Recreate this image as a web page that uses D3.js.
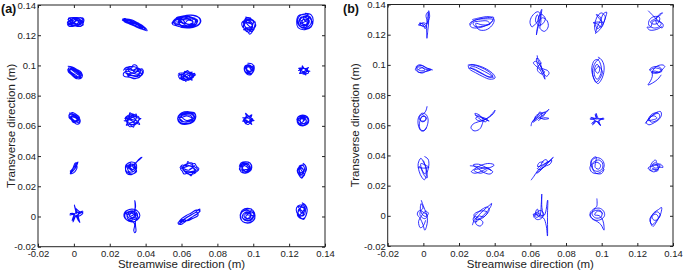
<!DOCTYPE html>
<html>
<head>
<meta charset="utf-8">
<script src="https://cdn.jsdelivr.net/npm/d3@7"></script>
<style>
  body { margin: 0; background: #fff; }
  svg { display: block; }
  text { font-family: "Liberation Sans", Arial, sans-serif; }
</style>
</head>
<body>
<script>
const width = 685, height = 272;

// axis ticks (metres)
const xTicks = [-0.02, 0, 0.02, 0.04, 0.06, 0.08, 0.1, 0.12, 0.14];
const yTicks = [-0.02, 0, 0.02, 0.04, 0.06, 0.08, 0.1, 0.12, 0.14];

// mean position of each tracked point, in mm (row by row, top row first)
const centersA = [
  [1.0, 128.7], [33.5, 127.2], [62.5, 128.8], [97.6, 126.5], [128.8, 129],
  [0.6, 95.4], [33.1, 95.7], [62.9, 93.2], [97.8, 97.5], [128.3, 96.7],
  [0.3, 65], [32.7, 63.9], [62.9, 65], [97.2, 64.4], [127.6, 63.6],
  [0.3, 31.9], [32, 32.1], [64.4, 31.6], [95.7, 32.5], [127.1, 30.3],
  [1.5, 1.8], [32.4, 0.7], [64.2, -0.3], [96.8, 0.5], [127.1, 3.6]
];
const centersB = [
  [1, 126.9], [32.9, 127.5], [64.9, 128.2], [99, 127.9], [129.9, 129.5],
  [0.4, 97.1], [32.3, 95.8], [66, 98.4], [97.9, 96.4], [130.4, 96.4],
  [-0.2, 63.3], [32.9, 63.3], [65.4, 65], [97.4, 63.7], [129, 64.7],
  [0.1, 31.6], [32.9, 31.2], [66, 32.2], [97.4, 33], [130.2, 32.6],
  [-0.2, 1.1], [32.9, 0.8], [64.9, 0.5], [97.6, 1.1], [130.3, -0.9]
];

// traced excursions around each mean position, in mm
const pathsA = [
  [[-4.5,1.5],[-2,2.8],[1,2.5],[4,2.8],[4.5,1],[2,-1],[-1,-2.8],[-4,-2.5],[-4.5,0],[-1,1.5],[3,0.5],[4.2,-2],[1,-2.5],[-3,-1],[-2,2],[2,2],[3.5,-0.5],[0,-1.5],[-3.5,0.5],[-4,2.5],[0,3],[4.5,2],[3,-2.8],[-2,-2],[-4.3,-1.5],[-1,0],[2.5,1.5],[4,0],[1.5,-1.5],[-2.5,1],
   [-3,2.5],[-1,-0.5],[1.5,2.8],[3,-1],[0.5,-2],[-2.5,1.5],[-4,-1],[-1.5,-2.5],[2,0],[4,1.5],[2.5,2.8],[-0.5,0.5],[-3.5,-2],[0,2],[3.5,-2.5],[1,1]],
  [[-6.5,3.5],[-3,3],[0,1.5],[3,0],[6,-2],[7.3,-4.2],[5,-3.5],[2,-1.5],[-1,0],[-4,1.5],[-6,2.5],[-5,3.8],[-2,2],[1,0.5],[4,-1],[6.5,-2.8],[4,-3],[0,-1],[-3,0.5],[-5.5,2],[-4.5,3.5],[-1,2.8],[2,1],[5,-1],[6,-3.5],[3,-2.5],[-0.5,-0.5],[-3.5,1],[-6.5,2.8],
   [-5,3],[-2,1],[1,1.5],[3,-1.5],[5.5,-2],[3,-1],[0,0.5],[-3,2.5],[-6,3.5],[-4,2],[-1,1],[2,-0.5],[4.5,-2.5],[6.5,-3.8],[2,-2],[-2,1.5]],
  [[-8,-1],[-6,2],[-2,3.8],[3,4.5],[7,3],[8,0],[6,-2.5],[1,-3.5],[-4,-3],[-7.5,-1.5],[-6,1],[-2,2],[3,2.5],[6.5,1],[5,-2],[0,-2.5],[-5,-1.5],[-6.5,0.5],[-3,3],[1,3.5],[5,2],[6,-1],[2,-3],[-3,-2],[-4,1],[0,1.5],[4,0],[2,-1.5],[-2,-0.5],[-7,0],[-5,-2.5],[2,-4],[7.5,-1.5],[8,2],[4,4.2],[-1,4],[-5.5,2.5],
   [-4,2],[-1,-1],[2,2],[4,-1],[1,-2.5],[-3,0],[-5,2.5],[0,3],[3,1],[5,2.5],[4.5,-2],[0,-1],[-2,1.5],[-4.5,-1],[-1,-3],[3,-2.5],[5.5,0.5],[2,3.5],[-2,2.8],[-6,1]],
  [[-2,5.5],[1,4.5],[3.5,2],[3,-1],[2,-4],[0.5,-5.8],[-1,-3.5],[-3.5,-1],[-3.8,2],[-1,3.5],[2,1],[1,-2.5],[-2,-1],[-3,2.5],[-0.5,5],[2.5,3],[3.8,0],[1.5,-3],[-1.5,-2],[-2.5,1],[0,2],[2,-0.5],[0,-4.5],[-2.5,-2.5],[-3,0.5],[-1,4],[1.5,3.5],
   [-2,3],[1,-1],[2.5,2.5],[0,4],[-2.5,0],[1.5,-4],[3,-2],[-1,-1.5],[-3,-3],[0,-2.5],[2,0.5],[-1,2],[-2,4.5],[1,5]],
  [[0,5.5],[3.5,4.5],[4.6,1],[3.5,-3.5],[0,-5.3],[-3.8,-4],[-4.6,0],[-3.5,4],[0,4.5],[3,3],[3.5,-1],[1.5,-3.5],[-2,-3.5],[-3.5,-0.5],[-2,3],[1,2.5],[2,0],[0.5,-2],[-1.5,-1],[-1,1.5],[1.5,1],[1,-1.5],[-2,-2.5],[-2.5,1.5],[0,3.5],[3,2],[4,-2],[1,-4.5],[-3,-3],[-4,1.5],[-2,4.5],[2,5],
   [-1,2],[1.5,-1],[-0.5,-3],[-2.5,-1.5],[0,0],[2,2.5],[1,-2.5],[-3,0.5],[-1,3],[2.5,0.5],[0,-4],[-2,1]],
  [[-4,4],[-1.5,3.5],[1,2],[3.5,0],[4,-3],[2,-4.3],[-0.5,-2.5],[-3,-0.5],[-4,2],[-2,3],[1,1],[3,-1.5],[2.5,-3.5],[0,-1.5],[-2.5,0.5],[-3.5,3],[-1,2],[2,0.5],[3.8,-2],[1,-3],[-1.5,-1],[-3,1.5],[0,2.5],[2.5,-0.5],[3,-3.5],[0.5,-4],[-2,-1.5],[-3.8,0.5],
   [-2,2],[0.5,0.5],[2.5,-2],[1,-3.5],[-1,-2],[-3.5,1],[-1,3],[1.5,0],[3,-2.5],[0,0],[-2.5,2.5]],
  [[-5.5,1],[-4,3],[-1,2.5],[0,4.6],[2,4],[2.5,1.5],[5,2],[5.6,-0.5],[4,-3],[1,-4.5],[-2,-3.5],[-5,-3],[-5.5,-1],[-3,0.5],[0,-1],[3,0.5],[4.5,-2],[1.5,-2.5],[-1.5,-2],[-4,-1],[-3.5,2],[-0.5,1],[2.5,2.5],[4,0],[2,-1.5],[-1,-0.5],[-3,-2.5],[0,-4],[3.5,-3.5],[5,0.5],[2,3],[-2,3.5],[-5,2],
   [-3,1.5],[-1,-1],[1.5,1.5],[3.5,-1],[1,-3],[-2,-1.5],[-4.5,0],[-2,2.5],[1,0],[4,1.5],[2.5,-3],[-0.5,-2.5],[-3.5,-2]],
  [[-5,0.5],[-2,1],[-1,3],[1,1.5],[3,2.5],[2.5,0],[5,0.5],[2.5,-1],[3,-3],[0.5,-1.5],[-0.5,-3.9],[-1.5,-1.5],[-4,-2],[-2.5,-0.5],[-4.5,1.5],[-1,2],[0.5,3.5],[2,1],[4.5,1.5],[3,-1.5],[1,-3],[-1,-2],[-3,-2.5],[-3,0],[-1,1],[1.5,0],[2,-2],[-0.5,-1],[-2,0.5],[0,2.5],[2.5,2],[4,-0.5],[1.5,-2.5],[-2,-3],[-4.5,-0.5],
   [-3,1],[0,-0.5],[2,1],[1,-1.5],[-1.5,0.5],[-2,-1.5],[1,2],[3.5,0],[0,-2.5],[-3.5,-1]],
  [[-1,3.9],[1.5,3.5],[2.8,1],[2,-2],[0.5,-3.8],[-1.5,-3],[-2.8,-0.5],[-2,2.5],[0.5,2],[1.8,-0.5],[0,-2],[-1.5,-1],[-1,1.5],[1,1],[2.5,2.5],[2.5,-1],[1,-3],[-2,-2],[-2.5,1],[-0.5,3],[1.5,1.5],[0.5,-1.5],[-1.8,0.5],
   [-1,2.5],[1,-1],[-1.5,-2],[1.5,-2.5],[2,1.5],[-2,1],[0,-3]],
  [[-3.3,0],[-1,0.8],[-1,3],[0.5,1],[2.5,2],[1.5,0],[3.3,-0.5],[1,-1],[1,-3],[-0.5,-1.5],[-2.5,-2],[-1.5,0],[-3,1.5],[-0.5,1.5],[1.5,1],[2.5,-1.5],[0,-2.5],[-2,-1],[-1,1.5],[1,0.5],[2,-0.5],[0,-1],[-2.5,0.5],
   [-2,0],[0,1.5],[1.5,-1],[-1,-1.5],[2,1],[-2,1],[0.5,-2]],
  [[-3,3.5],[-1,3],[1,1.5],[3,-0.5],[3,-3],[1,-3.8],[-1,-1.5],[-3,0.5],[-2.5,2.5],[0,2],[2,0],[2.5,-2.5],[0,-2],[-2,0],[-3.1,2],[-1,3.8],[1,2.5],[2.8,0.5],[1.5,-2],[-1,-0.5],[-2,1.5],[0.5,1],[2,-1.5],[-0.5,-2.8],
   [-2,1],[0.5,2],[1.5,-1],[-0.5,-1.5],[-2.5,1],[1,0],[2,-2]],
  [[-4.5,1],[-2,1.5],[-1.5,4.8],[0.5,3],[2,4],[2.5,1.5],[4.7,1],[3,-0.5],[4,-3],[1.5,-2],[0.5,-4.8],[-1.5,-3],[-3.5,-3.5],[-2.5,-1],[-4.7,-0.5],[-2,0],[-0.5,2],[1.5,0.5],[2.5,-2],[0,-1.5],[-2.5,-2],[-3,0.5],[-1,1],[1,2.5],[3.5,2],[3,-1.5],[1,-3.5],[-1.5,-4.5],[-3,-2],[-4,1.5],[-2.5,3],[0,4],[2,2.5],
   [-2,1],[1,-1],[2,2],[-1,2.5],[-3,-1],[0,-3],[2.5,-1],[-1,0.5],[-3.5,1.5],[1,3.5]],
  [[-5,1],[-3,3.5],[1,4.4],[4.5,3.5],[5,1],[3.5,-2.5],[0,-4],[-3.5,-3.5],[-5,-1],[-4,2],[-1,3.5],[3,3],[4.5,0],[2,-3],[-2,-3.5],[-4.5,-1.5],[-4.5,1.5],[-1,3],[3,2.5],[4,0.5],[1,-2],[-3,-2],[-4,0.5],[-2,2.5],[2,3.8],[5,2],[4,-2],[0,-3.5],[-4,-2.5],[-5,0.5],
   [-3,0.5],[0,1.5],[3,0],[0,-1.5],[-3,1.5],[2,2],[3.5,-1],[-1,-2.5],[-4,0]],
  [[-3.3,1],[-1,1.5],[-1.5,3.9],[0.5,2],[2,3],[1.5,0.5],[3.3,-1],[1,-1],[2,-3.5],[0,-2],[-1.5,-3],[-1,-0.5],[-3,-1.5],[-2,0.5],[-0.5,2.5],[1,1],[2.5,0],[1,-2.5],[-0.5,-1],[-2.5,0],[-1,1],[1.5,-0.5],[0,-3.5],[-2,-2],
   [-1.5,1],[1,0],[0,-2],[-2,-0.5],[1,2],[2,-1.5]],
  [[-3.4,0],[-2.5,2.5],[0,3.6],[2.5,2.5],[3.4,0],[2.5,-2.5],[0,-3.6],[-2.5,-2.5],[-3,0.5],[-1.5,2],[1,2.5],[3,1],[2.5,-1.5],[0.5,-3],[-2,-2],[-2.5,0.5],[0,1.5],[2,0],[1,-2],[-1.5,-1],[-1,1],[1,0.5],[0,-1],[-2,-3],[1.5,-3],[3,-0.5],[2,2],[-1,3],[-3,1.5],
   [-2,0],[0.5,2],[2,-1],[-0.5,-2],[-1.5,1.5],[1.5,1.5],[0,0]],
  [[-2.5,-3.8],[-1,-2],[0.5,0],[1.5,2.5],[2,4.2],[1,3],[0,1],[-1.5,-1],[-2.2,-3],[-1.5,-2.5],[0,-0.5],[1,1.5],[1.8,3.5],[0.5,3.5],[-0.5,1],[-1.2,-1.5],[-2,-3.5],[-0.5,-3],[1,-1],[1.5,1],[1,2],[-1,-0.5],[-2.5,-2]],
  [[-3,0],[-2,3],[0,4],[2.5,3],[3,0],[2,-3],[0,-4.5],[-2.5,-3.5],[-3.2,-0.5],[-1.5,2],[1,2.5],[2.5,0.5],[1,-2.5],[-1.5,-2],[-2,0.5],[0,1.5],[1.5,-0.5],[0,-1.5],[-1,0],[1,2],[2.5,3.5],[4,5],[6,7.1],[5,6.5],[3,4],[1.5,1],[3,-2],[0.5,-4],[-2.8,-2],[-3,2],[-0.5,3.5],
   [-2,-1],[0,2.5],[2,1],[1,-1],[-1.5,1],[0.5,-2.5],[-2.5,-2.5]],
  [[-5.3,0.5],[-4,2.5],[-1.5,2],[-1,4.7],[1,3],[3,3.5],[4,1.5],[5.3,0],[4,-2],[2,-2.5],[1,-4.7],[-1,-3],[-3,-3.5],[-4,-1.5],[-5,0],[-2.5,1],[0,2],[2.5,1.5],[4.5,-0.5],[2.5,-1.5],[0,-2],[-3,-1],[-3.5,1.5],[-1,3.5],[1.5,3.8],[2,1],[3.5,-2.5],[0,-3.8],[-2.5,-2],[-4.5,1.5],
   [-3,0],[-0.5,-1],[2,0.5],[3.5,-1],[1,-2.5],[-2,-2.5],[-4,1],[-1,2.5],[1,1.5],[3,2],[0,-0.5]],
  [[-3.5,0.5],[-2.5,3],[0,3.8],[2.5,3],[3.5,0],[2.5,-2.5],[0,-3.8],[-2.5,-3],[-3,0],[-1,2],[1.5,2],[2.5,-0.5],[1,-2.5],[-1.5,-2],[-2,0.5],[0,1],[1.5,-1],[-0.5,-1.5],[-3.3,-1.5],[-2,2.5],[1,3.5],[3.2,1.5],[2,-2],[-1,-3.5],
   [-2,-1],[0,2],[2,-0.5],[0,-2.5],[-2.5,1.5],[1.5,2.5],[2.5,-2.5]],
  [[0.5,5],[2,3.5],[2.6,1],[1.5,-2],[0,-5],[-1.5,-3],[-2.6,0],[-1.5,2.5],[0.5,3.5],[1.5,1],[0.5,-1.5],[-1,-1],[-1.5,1.5],[0,2],[1,-0.5],[-0.5,-3],[-2,-1.5],[-2,1],[1.5,4],[2.2,2],[1,-3.5],[-1,-4],
   [-1,2],[1,0],[-1,-2],[1.5,-3],[-1.5,3],[0.5,4]],
  [[0,0],[-1.3,5.8],[0.5,1],[3.7,1.2],[1,-0.5],[1.8,-5.8],[0,-1],[-2,-5.4],[-1,-0.5],[-3.7,-0.8],[-0.5,0.5],[-1,4.5],[0.8,0.5],[3.2,1.8],[0.5,-1],[1.2,-5],[-0.5,-1.5],[-2.5,-4.5],[-1.5,0],[-3.5,0.2],[0,0.5],[-0.5,3.5],[1.5,1.5],[3.5,0.5],[1.5,-1.5],[-0.5,-1]],
  [[-4.4,0],[-3,3],[0,4.3],[3,3],[4.4,0],[3,-3],[0,-4.3],[-3,-3],[-4,0.5],[-2,2.5],[1,3],[3,1],[2.5,-2],[0,-3],[-2.5,-2],[-2.5,0.5],[0,1.5],[1.5,0],[0,-1.5],[-1.5,0],[1.5,3.5],[1.6,9.8],[2,6],[1.5,2],[3.5,-1.5],[2,-3.5],[2,-7],[2.2,-10.5],[1.5,-11.4],[1,-10],[1.5,-6],[0.5,-4],[-3.5,-2.5],[-4.3,1.5],[-1.5,4],[2.5,3.5],
   [-3,1],[-1,-2],[2,-1],[1,2],[-2,2],[-1,-0.5],[2.5,1.5],[0,-2.5]],
  [[-6,-5],[-4,-3.5],[-2,-1],[0,0.5],[3,2.5],[6,5.3],[5.5,3],[3,1],[0,-1.5],[-3,-3],[-5.5,-3],[-4,-1],[-1.5,1],[1,2.5],[4,4.5],[6.2,4],[4,1.5],[1,-0.5],[-2,-3],[-4.5,-5],[-6.2,-4],[-3.5,-2],[-1,0],[2,2],[4.5,3],[5,1],[2,-1],[-1,-2.5],[-3,-1.5],[-5,-2.5]],
  [[-4.2,0],[-3,3.5],[0,5],[3,3.5],[4.2,0],[3,-3.5],[0,-5],[-3,-3.5],[-3.8,1],[-1.5,3.5],[1.5,3],[3.5,1],[2.5,-2.5],[0,-3.5],[-2.5,-2],[-2.5,1],[0,2],[2,0.5],[1,-2],[-1,-1],[0,1],[3,2.5],[4,-2],[1,-4.5],[-2.5,-4],[-4,-1.5],[-3,2.5],[0.5,4.5],[2.5,4],
   [-2,0],[0,-2],[2,1.5],[-1,2.5],[-3,-1],[1,-3],[3,0],[-0.5,0.5]],
  [[0,5.5],[2,4],[3,1],[2.5,-2],[1,-5.5],[-1,-4],[-2.8,-1],[-3,2],[-1,4],[1.5,3],[2,0],[1,-3],[-1.5,-2.5],[-2,0.5],[0,2.5],[1.5,1],[0.5,-1.5],[-1,0],[0.5,4.5],[2.5,2.5],[2.8,-1],[1.5,-4.5],[-0.5,-5],[-2.5,-2.5],
   [-1,1],[1,-2],[-1.5,-3.5],[1.5,2],[-2,3],[0,0]]
];

const pathsB = [
  [[-3.5,0],[-1,1],[1,0.5],[1.5,5],[2,9],[2.5,5],[1,0],[0,-3],[-1,-0.5],[-3,1],[-2,-1],[0,-1.5],[1,2],[0.5,6],[1.5,8],[2,3],[1.5,-4],[1,-9.3],[0.8,-5],[0.5,-1],[-2,0.5],[-3.8,-0.5],[-1,-1]],
  [[-6.5,-1],[-5,1.5],[-1,3],[3,3.8],[6.5,4],[5.5,1],[2,-1.5],[-2,-3],[-6,-2.5],[-6.8,0],[-3,2.5],[2,3],[6,2.5],[4,-0.5],[0,-2],[-4,-2],[-5,0.5],[-1,1.5],[3,1.5],[4.5,-0.5],[0,-1],[-3.5,0],[-2,-4],[2,-4.4],[5.5,-1.5],[6.8,2.5],[4,4.4],[-2,3.5],[-5.5,2.5]],
  [[-1,0],[0,4],[1.5,8.6],[1,4],[0,-1],[-1,-5],[-1.5,-8.4],[-1,-4],[0,1],[2,3],[4.5,1],[5.1,-3],[3,-6],[0.5,-4],[1,0],[0.5,6],[-1,7],[-4,4],[-5.1,0],[-4,-3],[-2,-1],[0,2],[-1,5],[-2,1],[0,-2],[2,-1],[3.5,2.5],[1,5.5],[-0.5,2]],
  [[-2.5,-7.4],[-1.5,-3],[0.5,2],[2,6],[3.8,7],[3,3],[1.5,-2],[-0.5,-5],[-2,-6.5],[-3,-3],[-2.5,1],[-1,5],[1,6.5],[3,4],[2,0],[0.5,-3],[-1,-1],[-3.8,0],[-1,0.5],[1.5,0],[-0.5,3],[-2,5.5],[0,4],[1,-1],[-1.5,-4],[-2.5,-1]],
  [[-3.8,6.4],[-1,3],[2,-0.5],[3.5,-2],[2,-4.5],[-1,-5],[-3.5,-3],[-3,0.5],[-0.5,2.5],[2.5,2],[2,-1.5],[-1,-2.5],[-2.5,-1],[0,1],[3,3.5],[4.2,5],[2,3.5],[0.5,0],[1.5,-3],[4,-5],[4.6,-3],[3,-1],[-1,-0.5],[-2.5,-4.5],[-4.4,-4.5],[-3,-6.4],[1,-6],[4,-4]],
  [[4.9,-0.5],[2,0.5],[-1,2.5],[-3.5,2],[-4.9,0],[-3,-2],[0,-1.8],[3.5,-0.5],[1,0],[-2,1.5],[-4,1],[-3.5,-1.5],[-1,-2.5],[1.5,-1],[4,-0.2],[1,1],[-2.5,3],[-4.5,1.5],[-2,-1],[0.5,-0.5],[-1,1],[-3,0]],
  [[-7.4,4],[-5,4.5],[-1,3.5],[3,1.5],[7,-2],[7.9,-4.5],[5,-5.3],[1,-3.5],[-3,-1],[-6.5,1.5],[-7,3.5],[-4,4],[0,2.5],[4,0],[6.5,-3],[5,-4],[1,-2],[-3,0.5],[-6,2.5],[-4,3],[0,1],[4,-1.5],[7,-4],[4,-3.5],[0,-1],[-4,1.5],[-6.8,2]],
  [[-2.2,7.9],[-1.5,4],[0,0],[1.5,-4],[2.2,-7.9],[1,-5],[-1,-1],[-3,1],[-4.3,3],[-3,4],[-1,2],[1,-1],[3.5,-2],[4.5,-4],[3,-6],[1,-3],[0,1],[-1,5],[-2.5,6],[-2,2],[-0.5,-1],[2,-3],[0.5,-4.5],[-2,-2],[-1.5,1],[0.5,3]],
  [[0,8.8],[2,7],[3.4,3],[3,-3],[1.5,-7],[0,-8.8],[-1.5,-7],[-3,-3],[-3.4,2],[-2,6.5],[0,7],[1.5,4],[2,0],[1,-4],[-0.5,-6],[-2,-3],[-2,1],[-0.5,4],[1,1],[0,-2],[-1.5,0],[0.5,2.5],[2.5,-1],[1,-5.5],[-1,-8],[-2.5,-5],[-3,0],[-1.5,5],[1,8]],
  [[-3.5,0],[-1,1.5],[2,1],[3.5,-0.5],[1,-1.5],[-2,-1],[-3.5,0.5],[-2,2],[1,2.5],[3,1],[2,-1],[-1,-0.5],[-2.5,-1.5],[0,-2],[2.5,-1],[4,1],[5,2.5],[4,3.5],[1,3],[-1,1],[-2,-1],[-2,-4],[-3,-7],[-4.4,-9.7],[-2,-8.5],[1,-6],[3,-3]],
  [[2.3,9.3],[1.5,6],[0,4],[-2,3],[-2.8,0],[-2.5,-4],[-1,-7],[1,-6.5],[2.5,-3],[2.8,1],[1.5,4],[-1,4.5],[-2,1],[-0.5,-1],[1.5,0],[1,2.5],[-1,2],[-1.5,0],[0.5,-0.5],[2,1.5],[0,3],[-2,-2],[-1.5,-6],[0.5,-7],[2,-4.5]],
  [[-4,3.5],[-1,2],[2,0.5],[4,-0.5],[1,1],[-2,3],[-3.5,1],[-1,-0.5],[3,1.5],[5,3.5],[6.5,5.5],[7.3,6.7],[6.5,4.5],[4,2],[1,0],[-2,-1],[-5,-2.5],[-6.2,-5],[-4.5,-7],[-1.5,-6],[0,-3],[0.5,0.5],[-1.5,3.5],[-4,4.5],[-2,1.5],[2,-1],[3,0.5],[0,2]],
  [[-5,-5.6],[-4.5,-3],[-2,0],[1,2.5],[4,4.5],[5,5.6],[3.5,3.5],[1,1],[-2,-1.5],[-4,-3],[-3,-0.5],[-1,2],[0,4],[1,2],[0,-0.5],[3,0],[5,-0.5],[2,-1],[-1,0.5],[-3,-2],[-2.5,1],[0.5,3],[3,3.5],[1.5,0.5],[-1,-2]],
  [[0,0],[-0.5,4.2],[0.8,0.8],[4,0.5],[1,-0.5],[2,-4],[0,-1],[-2.5,-3.5],[-1,-0.5],[-4,0.5],[-0.8,0.8],[-1,3.5],[0.5,0.5],[3.5,1],[1,-1],[1.5,-3.5],[-0.5,-1],[-3,-2.5],[-1,0],[-3.5,1.5],[0,0.5]],
  [[-4.5,-3.5],[-3,-1],[-1,1.5],[1.5,3.5],[4,4.4],[4.5,2],[3,-1],[0.5,-3],[-2.5,-4.4],[-4,-3],[-2,0],[0.5,2.5],[3,3],[3.5,0.5],[1,-2],[-1.5,-2.5],[-2,0.5],[0.5,1.5],[2,0],[0,-1],[-3,-1.5],[-1,2.5],[2.5,4]],
  [[0.5,7.7],[2.5,6],[3,2],[2,-3],[0.5,-7.7],[-1,-6],[-2.5,-2],[-3,3],[-1.5,6.5],[0,4],[1.5,0],[1,-4],[-0.5,-2],[-2,1],[-3,0.5],[0,0],[3,0.5],[1,2],[-1.5,3],[-1,-1],[0.5,-5],[2,-6.5],[1.5,-1],[0,5]],
  [[-6.8,2],[-3,1.5],[1,0.5],[5,1],[6.8,2.5],[4,3.5],[0,2.5],[-4,0],[-6,-2],[-4,-3],[0,-1.5],[3,0],[6,-2],[4.5,-3.5],[1,-2.5],[-2,0],[-5,2.5],[-2,3],[2,1],[5,-1],[3,0.5],[-1,0],[-4.5,-1],[-1,-3],[3,-1]],
  [[-5.6,-8.6],[-4,-6],[-2,-2.5],[0,0],[2,2],[4.5,4],[6.8,6.6],[5,4],[2,1],[-0.5,-1.5],[-2,-1],[0,1.5],[1,4],[3,5],[3.5,3],[1.5,0],[-1,-2],[-2.5,-4],[-1,-3],[1,-0.5],[3,1],[5,2],[6,4.5],[3,3],[0,1],[-2,0.5],[-1,3],[1.5,3.5]],
  [[-3.5,0],[-3,3.5],[-0.5,5.5],[2.5,4.5],[4,1],[3,-3],[0,-5],[-3,-4],[-4,-1],[-2,2.5],[1,4],[3,2],[3,-1.5],[0.5,-3.5],[-2,-2.5],[-2.5,1],[0,2.5],[2,0.5],[1,-2],[-1,-1],[-0.5,6],[-2.5,5],[-3.5,2],[-1,-4.5],[2.5,-5],[4,-2]],
  [[-3,0],[-2,2.5],[0,4.4],[1,2],[3,1.5],[4.2,-0.5],[2,-0.5],[1,-3],[-1,-2],[-3,-2.5],[-2.5,0],[-0.5,1.5],[2,0],[0,-1],[-2,1],[0,2.5],[1.5,-1.5],[-1,-3.5],[-4.2,-1],[-1.5,0.5],[2.5,1],[1,-2],[-2,-1]],
  [[-1,9.3],[0,6],[1,3],[2,0],[2.5,-4],[2,-8],[1,-10.6],[0,-7],[-1.5,-3],[-3.2,0],[-2,2.5],[0.5,1],[2.5,-1],[1,-3],[-1.5,-1],[-1.5,2],[0,4],[-1,7],[-1.5,4],[-0.5,0],[1.5,-1.5],[3,0.5],[1.5,2],[-1,-1.5],[-2.5,-5],[-1.5,-9],[0,-8],[1.5,-4]],
  [[-5.4,-7],[-4.5,-4],[-2,-0.5],[1,3],[4,6],[5.4,7.4],[4.5,4.5],[2,1],[-1,-2.5],[-4,-5],[-5,-3],[-3,0.5],[0,3.5],[3,5],[4,3],[2,-0.5],[-1,-3],[-3.5,-3],[-4.5,0],[-2,2],[1,2.5],[3,1.5],[1,-1.5],[-2,-1],[-3.5,-6],[-1,-7.6],[0.5,-5],[-4,-1]],
  [[-2.5,-1],[-1,2],[1,3],[2.5,1],[1.5,-2],[-1,-3],[-3,-1],[-2,1.5],[0.5,0.5],[2,-0.5],[1.5,6],[1.5,13.9],[1.2,7],[0.5,0],[-1.5,-1.5],[-3.3,0.5],[-1.5,0.5],[1,-0.5],[3,0],[4.8,9.9],[4.7,0],[4.7,-13.9],[4,-7],[2.5,-2],[0,-1],[-2,1],[-1,4],[0,1]],
  [[-0.3,10.4],[-0.4,5],[-2,3.5],[-4,1],[-3.5,-2],[-1,-4],[2,-3.5],[4,-1],[3.5,2],[1,4],[-2,3],[-3,0],[-1,-2.5],[2,-2],[2.5,1],[0,2],[-1.5,-0.5],[1,-1],[3,-4],[3.7,-8],[3.7,-10.6],[2,-7],[0,-5],[-3,-3],[-4.2,-0.5],[-2,2],[1.5,2.5],[3,0]],
  [[-2,-6],[-3,-3],[-2.5,0],[-1,3],[1.5,5],[3.3,6.4],[3,3],[2,0],[0,-3],[-2,-5],[-3.3,-1.5],[-1.5,2],[1,3.5],[2.5,1.5],[1,-1.5],[-1,-2],[-2,0.5],[0,2],[1.5,0],[0,-4],[-1.5,-6.4]]
];

const panels = [
  { label: "(a)", left: 38, right: 325, top: 5, bottom: 246.7, labelX: 1, yTitleX: 11, lineWidth: 1.05, centers: centersA, paths: pathsA },
  { label: "(b)", left: 387.7, right: 673, top: 4.5, bottom: 246, labelX: 343, yTitleX: 355, lineWidth: 0.85, centers: centersB, paths: pathsB }
];

const fmt = d => d === 0 ? "0" : String(+d.toFixed(2));

const svg = d3.select("body").append("svg").attr("width", width).attr("height", height);
svg.append("rect").attr("width", width).attr("height", height).attr("fill", "#fff");

panels.forEach(p => {
  const x = d3.scaleLinear().domain([-0.02, 0.14]).range([p.left, p.right]);
  const y = d3.scaleLinear().domain([-0.02, 0.14]).range([p.bottom, p.top]);
  const g = svg.append("g");

  // trajectories
  const line = d3.line()
    .x(d => x(d[0] / 1000))
    .y(d => y(d[1] / 1000))
    .curve(d3.curveCatmullRom.alpha(0.5));
  p.paths.forEach((pts, i) => {
    const c = p.centers[i];
    g.append("path")
      .attr("d", line(pts.map(d => [c[0] + d[0], c[1] + d[1]])))
      .attr("fill", "none")
      .attr("stroke", "#0a0aff")
      .attr("stroke-width", p.lineWidth)
      .attr("stroke-linejoin", "round");
  });

  // axes, ticks pointing inward on all four sides
  const styleAxis = sel => {
    sel.select(".domain").remove();
    sel.selectAll("line").attr("stroke", "#222");
    sel.selectAll("text").attr("font-size", 9.5).attr("fill", "#222")
      .attr("font-family", "Liberation Sans, Arial, sans-serif");
  };
  g.append("g").attr("transform", `translate(0,${p.bottom})`)
    .call(d3.axisBottom(x).tickValues(xTicks).tickFormat(fmt).tickSize(-3).tickPadding(4)).call(styleAxis);
  g.append("g").attr("transform", `translate(0,${p.top})`)
    .call(d3.axisTop(x).tickValues(xTicks).tickFormat("").tickSize(-3)).call(styleAxis);
  g.append("g").attr("transform", `translate(${p.left},0)`)
    .call(d3.axisLeft(y).tickValues(yTicks).tickFormat(fmt).tickSize(-3).tickPadding(2)).call(styleAxis);
  g.append("g").attr("transform", `translate(${p.right},0)`)
    .call(d3.axisRight(y).tickValues(yTicks).tickFormat("").tickSize(-3)).call(styleAxis);

  g.append("rect")
    .attr("x", p.left).attr("y", p.top)
    .attr("width", p.right - p.left).attr("height", p.bottom - p.top)
    .attr("fill", "none").attr("stroke", "#222").attr("stroke-width", 1);

  // titles
  g.append("text")
    .attr("x", (p.left + p.right) / 2).attr("y", 268)
    .attr("text-anchor", "middle").attr("font-size", 11.5).attr("fill", "#222")
    .text("Streamwise direction (m)");
  g.append("text")
    .attr("transform", `translate(${p.yTitleX},${(p.top + p.bottom) / 2}) rotate(-90)`)
    .attr("text-anchor", "middle").attr("dy", "0.35em").attr("font-size", 11.5).attr("fill", "#222")
    .text("Transverse direction (m)");
  g.append("text")
    .attr("x", p.labelX).attr("y", 13)
    .attr("font-size", 12.5).attr("font-weight", "bold").attr("fill", "#111")
    .text(p.label);
});
</script>
</body>
</html>
